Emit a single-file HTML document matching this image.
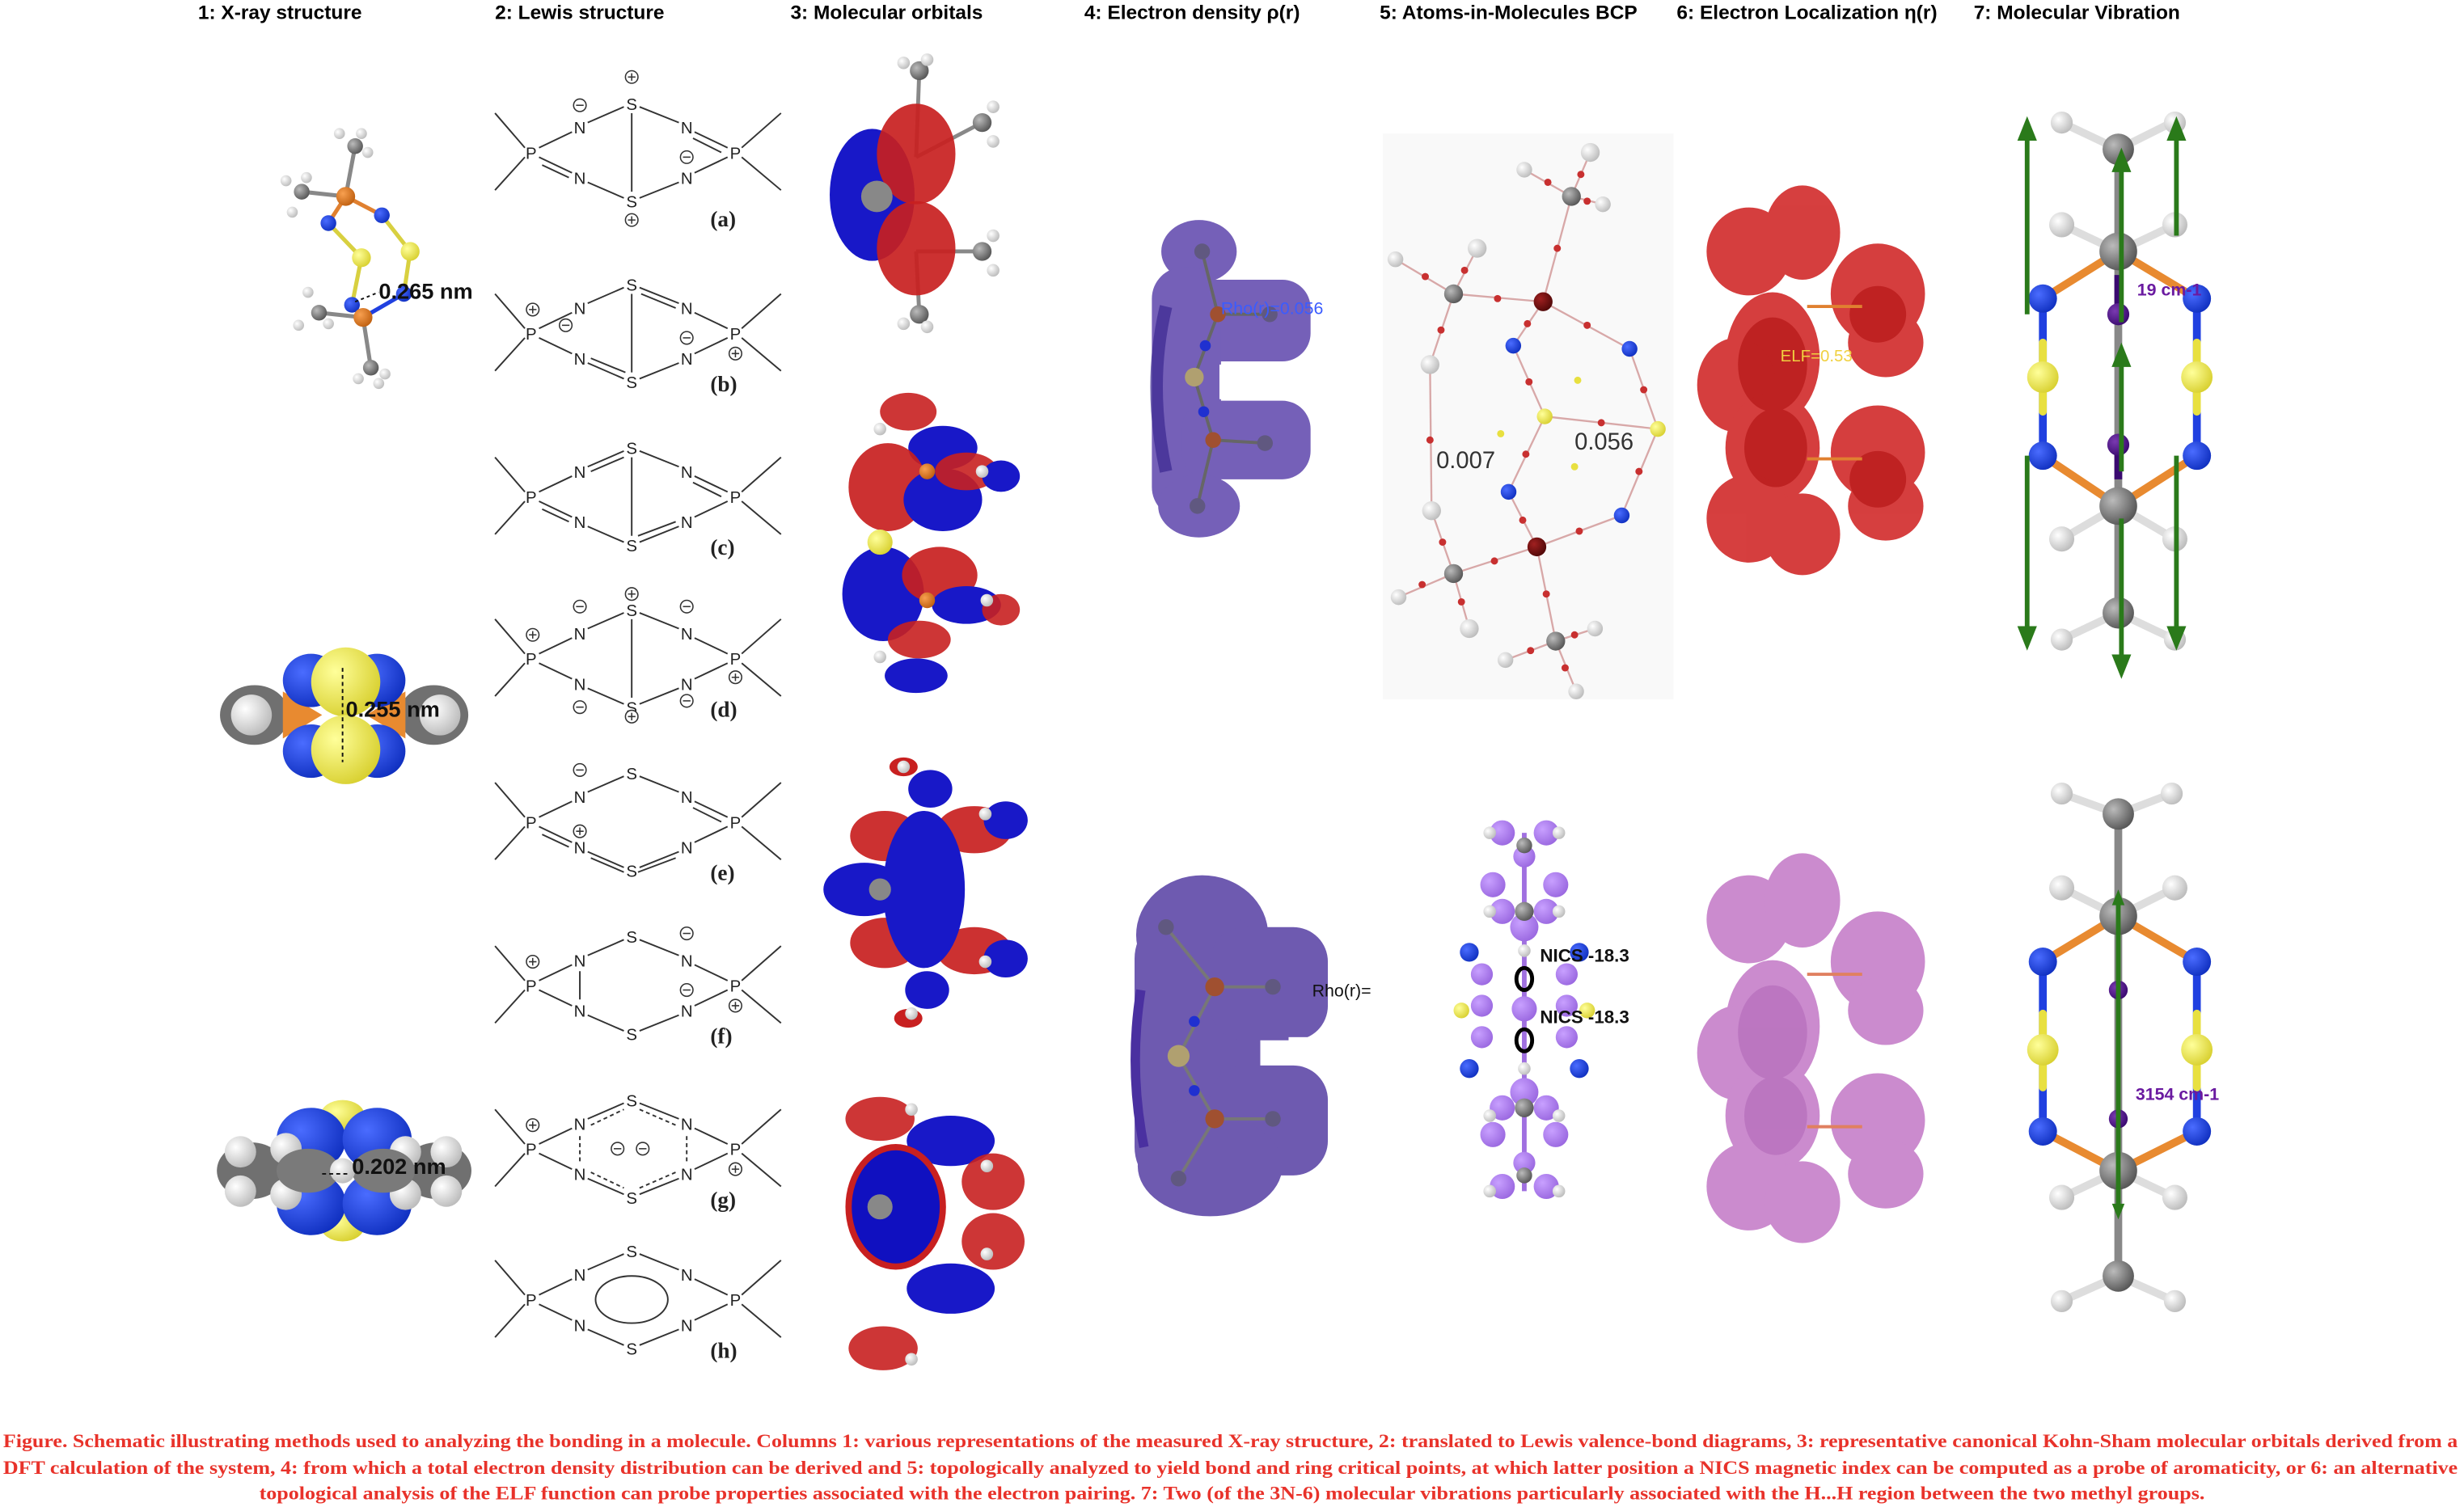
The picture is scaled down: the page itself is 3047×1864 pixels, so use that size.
<!DOCTYPE html>
<html><head><meta charset="utf-8"><style>
html,body{margin:0;padding:0;background:#fff;}
svg{display:block;}
.h{font-family:"Liberation Sans",sans-serif;font-weight:bold;font-size:12.6px;fill:#000;}
.L{font-family:"Liberation Sans",sans-serif;font-size:10.5px;text-anchor:middle;fill:#222;}
.lab{font-family:"Liberation Serif",serif;font-weight:bold;font-size:14px;fill:#222;}
.cap{font-family:"Liberation Serif",serif;font-weight:bold;font-size:12.2px;fill:#e8322a;}
.b{stroke:#333;stroke-width:1;fill:none;}
.d{stroke:#333;stroke-width:1;fill:none;stroke-dasharray:2.5 2;}
</style></head><body>
<svg width="3047" height="1864" viewBox="0 0 1568 959" preserveAspectRatio="none" xmlns="http://www.w3.org/2000/svg">
<defs>
<radialGradient id="gC" cx="35%" cy="35%" r="70%"><stop offset="0" stop-color="#bbb"/><stop offset="1" stop-color="#555"/></radialGradient>
<radialGradient id="gH" cx="35%" cy="35%" r="70%"><stop offset="0" stop-color="#fff"/><stop offset="1" stop-color="#bbb"/></radialGradient>
<radialGradient id="gN" cx="35%" cy="35%" r="70%"><stop offset="0" stop-color="#4a6cff"/><stop offset="1" stop-color="#1030c0"/></radialGradient>
<radialGradient id="gS" cx="35%" cy="35%" r="70%"><stop offset="0" stop-color="#ffff9a"/><stop offset="1" stop-color="#d8d030"/></radialGradient>
<radialGradient id="gP" cx="35%" cy="35%" r="70%"><stop offset="0" stop-color="#f8a050"/><stop offset="1" stop-color="#c06010"/></radialGradient>
<radialGradient id="gV" cx="35%" cy="35%" r="70%"><stop offset="0" stop-color="#7a3ab0"/><stop offset="1" stop-color="#3a0a70"/></radialGradient>
<radialGradient id="gL" cx="35%" cy="35%" r="70%"><stop offset="0" stop-color="#c8a0ff"/><stop offset="1" stop-color="#9a68e0"/></radialGradient>
<radialGradient id="gR" cx="35%" cy="35%" r="70%"><stop offset="0" stop-color="#a02020"/><stop offset="1" stop-color="#500808"/></radialGradient>
<symbol id="pl" viewBox="-5 -5 10 10" width="10" height="10" overflow="visible"><circle r="4" fill="#fff" stroke="#333" stroke-width="0.8"/><path d="M-2.4 0H2.4M0 -2.4V2.4" stroke="#333" stroke-width="0.8"/></symbol>
<symbol id="mi" viewBox="-5 -5 10 10" width="10" height="10" overflow="visible"><circle r="4" fill="#fff" stroke="#333" stroke-width="0.8"/><path d="M-2.4 0H2.4" stroke="#333" stroke-width="0.8"/></symbol>
</defs>

<!-- headers -->
<text class="h" x="126" y="12">1: X-ray structure</text>
<text class="h" x="315" y="12">2: Lewis structure</text>
<text class="h" x="503" y="12">3: Molecular orbitals</text>
<text class="h" x="690" y="12">4: Electron density ρ(r)</text>
<text class="h" x="878" y="12">5: Atoms-in-Molecules BCP</text>
<text class="h" x="1067" y="12">6: Electron Localization η(r)</text>
<text class="h" x="1256" y="12">7: Molecular Vibration</text>

<!-- ===== Column 1 ===== -->
<g stroke-width="2.6" stroke-linecap="round">
<line x1="226" y1="93" x2="220" y2="125" stroke="#888"/><line x1="192" y1="122" x2="220" y2="125" stroke="#888"/>
<line x1="220" y1="125" x2="209" y2="142" stroke="#e08030"/><line x1="220" y1="125" x2="243" y2="137" stroke="#e08030"/>
<line x1="209" y1="142" x2="230" y2="164" stroke="#d8d040"/><line x1="243" y1="137" x2="261" y2="160" stroke="#d8d040"/>
<line x1="230" y1="164" x2="224" y2="194" stroke="#d8d040"/><line x1="261" y1="160" x2="257" y2="187" stroke="#d8d040"/>
<line x1="224" y1="194" x2="231" y2="202" stroke="#2040e0"/><line x1="257" y1="187" x2="231" y2="202" stroke="#2040e0"/>
<line x1="231" y1="202" x2="203" y2="199" stroke="#888"/><line x1="231" y1="202" x2="236" y2="234" stroke="#888"/>
</g>
<g>
<circle cx="216" cy="85" r="3.5" fill="url(#gH)"/><circle cx="230" cy="85" r="3.5" fill="url(#gH)"/><circle cx="234" cy="97" r="3.5" fill="url(#gH)"/>
<circle cx="226" cy="93" r="5" fill="url(#gC)"/>
<circle cx="182" cy="115" r="3.5" fill="url(#gH)"/><circle cx="195" cy="113" r="3.5" fill="url(#gH)"/><circle cx="186" cy="135" r="3.5" fill="url(#gH)"/>
<circle cx="192" cy="122" r="5" fill="url(#gC)"/>
<circle cx="220" cy="125" r="6" fill="url(#gP)"/>
<circle cx="209" cy="142" r="5" fill="url(#gN)"/><circle cx="243" cy="137" r="5" fill="url(#gN)"/>
<circle cx="230" cy="164" r="6" fill="url(#gS)"/><circle cx="261" cy="160" r="6" fill="url(#gS)"/>
<circle cx="224" cy="194" r="5" fill="url(#gN)"/><circle cx="257" cy="187" r="5" fill="url(#gN)"/>
<circle cx="196" cy="186" r="3.5" fill="url(#gH)"/><circle cx="190" cy="207" r="3.5" fill="url(#gH)"/><circle cx="209" cy="206" r="3.5" fill="url(#gH)"/>
<circle cx="203" cy="199" r="5" fill="url(#gC)"/>
<circle cx="231" cy="202" r="6" fill="url(#gP)"/>
<circle cx="236" cy="234" r="5" fill="url(#gC)"/>
<circle cx="228" cy="241" r="3.5" fill="url(#gH)"/><circle cx="245" cy="238" r="3.5" fill="url(#gH)"/><circle cx="241" cy="244" r="3.5" fill="url(#gH)"/>
</g>
<line x1="226" y1="192" x2="241" y2="186" stroke="#111" stroke-width="1" stroke-dasharray="2 2"/>
<text x="241" y="190" font-family="Liberation Sans,sans-serif" font-weight="bold" font-size="14" fill="#111">0.265 nm</text>

<!-- space fill 1 -->
<g>
<ellipse cx="162" cy="455" rx="22" ry="19" fill="#707070"/><ellipse cx="276" cy="455" rx="22" ry="19" fill="#707070"/>
<circle cx="160" cy="455" r="13" fill="url(#gH)"/><circle cx="280" cy="455" r="13" fill="url(#gH)"/>
<polygon points="180,440 205,455 180,470" fill="#e88a30"/><polygon points="258,440 233,455 258,470" fill="#e88a30"/>
<ellipse cx="198" cy="433" rx="18" ry="17" fill="url(#gN)"/><ellipse cx="198" cy="478" rx="18" ry="17" fill="url(#gN)"/>
<ellipse cx="240" cy="433" rx="18" ry="17" fill="url(#gN)"/><ellipse cx="240" cy="478" rx="18" ry="17" fill="url(#gN)"/>
<ellipse cx="220" cy="434" rx="22" ry="22" fill="url(#gS)"/><ellipse cx="220" cy="477" rx="22" ry="22" fill="url(#gS)"/>
<line x1="218" y1="425" x2="218" y2="485" stroke="#111" stroke-dasharray="2.5 2" stroke-width="1"/>
<text x="220" y="456" font-family="Liberation Sans,sans-serif" font-weight="bold" font-size="14" fill="#111">0.255 nm</text>
</g>
<!-- space fill 2 -->
<g>
<ellipse cx="218" cy="710" rx="14" ry="10" fill="url(#gS)"/><ellipse cx="218" cy="780" rx="14" ry="10" fill="url(#gS)"/>
<ellipse cx="198" cy="725" rx="22" ry="20" fill="url(#gN)"/><ellipse cx="240" cy="725" rx="22" ry="20" fill="url(#gN)"/>
<ellipse cx="198" cy="766" rx="22" ry="20" fill="url(#gN)"/><ellipse cx="240" cy="766" rx="22" ry="20" fill="url(#gN)"/>
<ellipse cx="160" cy="745" rx="22" ry="18" fill="#707070"/><ellipse cx="278" cy="745" rx="22" ry="18" fill="#707070"/>
<circle cx="153" cy="733" r="10" fill="url(#gH)"/><circle cx="153" cy="758" r="10" fill="url(#gH)"/>
<circle cx="182" cy="731" r="10" fill="url(#gH)"/><circle cx="182" cy="760" r="10" fill="url(#gH)"/>
<ellipse cx="196" cy="745" rx="20" ry="14" fill="#7a7a7a"/>
<circle cx="284" cy="733" r="10" fill="url(#gH)"/><circle cx="284" cy="758" r="10" fill="url(#gH)"/>
<circle cx="258" cy="733" r="10" fill="url(#gH)"/><circle cx="258" cy="760" r="10" fill="url(#gH)"/>
<ellipse cx="244" cy="745" rx="20" ry="14" fill="#7a7a7a"/>
<circle cx="218" cy="745" r="8" fill="url(#gH)"/>
<line x1="205" y1="747" x2="222" y2="747" stroke="#111" stroke-dasharray="2.5 2" stroke-width="1"/>
<text x="224" y="747" font-family="Liberation Sans,sans-serif" font-weight="bold" font-size="14" fill="#111">0.202 nm</text>
</g>

<!-- ===== Column 2: Lewis ===== -->
<!-- (a) -->
<g transform="translate(0,97)">
<path class="b" d="M334 -3L315 -25M334 3L315 24M472 -3L497 -25M472 3L497 24M343 -3L364 -13M343 3L364 13M374 -19L397 -29M374 19L397 29M407 -29L432 -19M407 29L432 19M442 -13L463 -3M442 13L463 3M402 -25V25M345 8L362 16M441 -9L459 0"/>
<text class="L" x="338" y="4">P</text><text class="L" x="468" y="4">P</text>
<text class="L" x="369" y="-12">N</text><text class="L" x="369" y="20">N</text><text class="L" x="437" y="-12">N</text><text class="L" x="437" y="20">N</text>
<text class="L" x="402" y="-27">S</text><text class="L" x="402" y="35">S</text>
<use href="#pl" x="397" y="-53"/><use href="#pl" x="397" y="38"/><use href="#mi" x="364" y="-35"/><use href="#mi" x="432" y="-2"/>
<text class="lab" x="452" y="47">(a)</text>
</g>
<!-- (b) -->
<g transform="translate(0,212)">
<path class="b" d="M334 -3L315 -25M334 3L315 24M472 -3L497 -25M472 3L497 24M343 -3L364 -13M343 3L364 13M374 -19L397 -29M374 19L397 29M407 -29L432 -19M407 29L432 19M442 -13L463 -3M442 13L463 3M402 -25V25M408 -25L430 -16M376 16L398 25"/>
<text class="L" x="338" y="4">P</text><text class="L" x="468" y="4">P</text>
<text class="L" x="369" y="-12">N</text><text class="L" x="369" y="20">N</text><text class="L" x="437" y="-12">N</text><text class="L" x="437" y="20">N</text>
<text class="L" x="402" y="-27">S</text><text class="L" x="402" y="35">S</text>
<use href="#pl" x="334" y="-20"/><use href="#mi" x="355" y="-10"/><use href="#mi" x="432" y="-2"/><use href="#pl" x="463" y="8"/>
<text class="lab" x="452" y="37">(b)</text>
</g>
<!-- (c) -->
<g transform="translate(0,316)">
<path class="b" d="M334 -3L315 -25M334 3L315 24M472 -3L497 -25M472 3L497 24M343 -3L364 -13M343 3L364 13M374 -19L397 -29M374 19L397 29M407 -29L432 -19M407 29L432 19M442 -13L463 -3M442 13L463 3M402 -25V25M345 8L362 16M441 -9L459 0M376 -16L397 -25M406 25L430 16"/>
<text class="L" x="338" y="4">P</text><text class="L" x="468" y="4">P</text>
<text class="L" x="369" y="-12">N</text><text class="L" x="369" y="20">N</text><text class="L" x="437" y="-12">N</text><text class="L" x="437" y="20">N</text>
<text class="L" x="402" y="-27">S</text><text class="L" x="402" y="35">S</text>
<text class="lab" x="452" y="37">(c)</text>
</g>
<!-- (d) -->
<g transform="translate(0,419)">
<path class="b" d="M334 -3L315 -25M334 3L315 24M472 -3L497 -25M472 3L497 24M343 -3L364 -13M343 3L364 13M374 -19L397 -29M374 19L397 29M407 -29L432 -19M407 29L432 19M442 -13L463 -3M442 13L463 3M402 -25V25"/>
<text class="L" x="338" y="4">P</text><text class="L" x="468" y="4">P</text>
<text class="L" x="369" y="-12">N</text><text class="L" x="369" y="20">N</text><text class="L" x="437" y="-12">N</text><text class="L" x="437" y="20">N</text>
<text class="L" x="402" y="-27">S</text><text class="L" x="402" y="35">S</text>
<use href="#pl" x="397" y="-46"/><use href="#pl" x="397" y="32"/><use href="#mi" x="364" y="-38"/><use href="#mi" x="364" y="26"/>
<use href="#mi" x="432" y="-38"/><use href="#mi" x="432" y="22"/><use href="#pl" x="334" y="-20"/><use href="#pl" x="463" y="7"/>
<text class="lab" x="452" y="37">(d)</text>
</g>
<!-- (e) -->
<g transform="translate(0,523)">
<path class="b" d="M334 -3L315 -25M334 3L315 24M472 -3L497 -25M472 3L497 24M343 -3L364 -13M343 3L364 13M374 -19L397 -29M374 19L397 29M407 -29L432 -19M407 29L432 19M442 -13L463 -3M442 13L463 3M345 8L362 16M441 -9L459 0M376 23L397 32M406 32L430 23"/>
<text class="L" x="338" y="4">P</text><text class="L" x="468" y="4">P</text>
<text class="L" x="369" y="-12">N</text><text class="L" x="369" y="20">N</text><text class="L" x="437" y="-12">N</text><text class="L" x="437" y="20">N</text>
<text class="L" x="402" y="-27">S</text><text class="L" x="402" y="35">S</text>
<use href="#mi" x="364" y="-38"/><use href="#pl" x="364" y="1"/>
<text class="lab" x="452" y="37">(e)</text>
</g>
<!-- (f) -->
<g transform="translate(0,627)">
<path class="b" d="M334 -3L315 -25M334 3L315 24M472 -3L497 -25M472 3L497 24M343 -3L364 -13M343 3L364 13M374 -19L397 -29M374 19L397 29M407 -29L432 -19M407 29L432 19M442 -13L463 -3M442 13L463 3M369 -9V9"/>
<text class="L" x="338" y="4">P</text><text class="L" x="468" y="4">P</text>
<text class="L" x="369" y="-12">N</text><text class="L" x="369" y="20">N</text><text class="L" x="437" y="-12">N</text><text class="L" x="437" y="20">N</text>
<text class="L" x="402" y="-27">S</text><text class="L" x="402" y="35">S</text>
<use href="#pl" x="334" y="-20"/><use href="#mi" x="432" y="-38"/><use href="#mi" x="432" y="-2"/><use href="#pl" x="463" y="8"/>
<text class="lab" x="452" y="37">(f)</text>
</g>
<!-- (g) -->
<g transform="translate(0,731)">
<path class="b" d="M334 -3L315 -25M334 3L315 24M472 -3L497 -25M472 3L497 24M343 -3L364 -13M343 3L364 13M374 -19L397 -29M374 19L397 29M407 -29L432 -19M407 29L432 19M442 -13L463 -3M442 13L463 3"/>
<path class="d" d="M376 -15L397 -25M407 -25L430 -15M376 15L397 25M407 25L430 15M369 -8V9M437 -8V9"/>
<text class="L" x="338" y="4">P</text><text class="L" x="468" y="4">P</text>
<text class="L" x="369" y="-12">N</text><text class="L" x="369" y="20">N</text><text class="L" x="437" y="-12">N</text><text class="L" x="437" y="20">N</text>
<text class="L" x="402" y="-27">S</text><text class="L" x="402" y="35">S</text>
<use href="#pl" x="334" y="-20"/><use href="#mi" x="388" y="-5"/><use href="#mi" x="404" y="-5"/><use href="#pl" x="463" y="8"/>
<text class="lab" x="452" y="37">(g)</text>
</g>
<!-- (h) -->
<g transform="translate(0,827)">
<path class="b" d="M334 -3L315 -25M334 3L315 24M472 -3L497 -25M472 3L497 24M343 -3L364 -13M343 3L364 13M374 -19L397 -29M374 19L397 29M407 -29L432 -19M407 29L432 19M442 -13L463 -3M442 13L463 3"/>
<ellipse class="b" cx="402" cy="0" rx="23" ry="15"/>
<text class="L" x="338" y="4">P</text><text class="L" x="468" y="4">P</text>
<text class="L" x="369" y="-12">N</text><text class="L" x="369" y="20">N</text><text class="L" x="437" y="-12">N</text><text class="L" x="437" y="20">N</text>
<text class="L" x="402" y="-27">S</text><text class="L" x="402" y="35">S</text>
<text class="lab" x="452" y="37">(h)</text>
</g>

<!-- ===== Column 3: MOs ===== -->
<g stroke="#888" stroke-width="2.5">
<line x1="585" y1="45" x2="583" y2="100"/><line x1="583" y1="100" x2="625" y2="78"/><line x1="583" y1="160" x2="625" y2="160"/><line x1="583" y1="160" x2="585" y2="200"/>
</g>
<g>
<ellipse cx="555" cy="124" rx="27" ry="42" fill="#1818c8"/>
<ellipse cx="583" cy="98" rx="25" ry="32" fill="#c82020" opacity="0.92"/>
<ellipse cx="583" cy="158" rx="25" ry="30" fill="#c82020" opacity="0.92"/>
<circle cx="558" cy="125" r="10" fill="#888"/>
<circle cx="585" cy="45" r="6" fill="url(#gC)"/><circle cx="575" cy="40" r="4" fill="url(#gH)"/><circle cx="590" cy="38" r="4" fill="url(#gH)"/>
<circle cx="625" cy="78" r="6" fill="url(#gC)"/><circle cx="632" cy="68" r="4" fill="url(#gH)"/><circle cx="632" cy="90" r="4" fill="url(#gH)"/>
<circle cx="625" cy="160" r="6" fill="url(#gC)"/><circle cx="632" cy="150" r="4" fill="url(#gH)"/><circle cx="632" cy="172" r="4" fill="url(#gH)"/>
<circle cx="585" cy="200" r="6" fill="url(#gC)"/><circle cx="575" cy="206" r="4" fill="url(#gH)"/><circle cx="590" cy="208" r="4" fill="url(#gH)"/>
</g>
<!-- MO 2 -->
<g>
<ellipse cx="578" cy="262" rx="18" ry="12" fill="#c82020" opacity="0.9"/>
<ellipse cx="600" cy="285" rx="22" ry="14" fill="#1818c8"/>
<ellipse cx="565" cy="310" rx="25" ry="28" fill="#c82020" opacity="0.92"/>
<ellipse cx="600" cy="318" rx="25" ry="20" fill="#1818c8"/>
<ellipse cx="615" cy="300" rx="20" ry="12" fill="#c82020" opacity="0.9"/>
<ellipse cx="637" cy="303" rx="12" ry="10" fill="#1818c8"/>
<ellipse cx="562" cy="378" rx="26" ry="30" fill="#1818c8"/>
<ellipse cx="598" cy="366" rx="24" ry="18" fill="#c82020" opacity="0.92"/>
<ellipse cx="615" cy="385" rx="22" ry="12" fill="#1818c8"/>
<ellipse cx="637" cy="388" rx="12" ry="10" fill="#c82020" opacity="0.9"/>
<ellipse cx="585" cy="407" rx="20" ry="12" fill="#c82020" opacity="0.9"/>
<ellipse cx="583" cy="430" rx="20" ry="11" fill="#1818c8"/>
<circle cx="560" cy="345" r="8" fill="url(#gS)"/>
<circle cx="590" cy="300" r="5" fill="url(#gP)"/><circle cx="590" cy="382" r="5" fill="url(#gP)"/>
<circle cx="625" cy="300" r="4" fill="url(#gH)"/><circle cx="628" cy="382" r="4" fill="url(#gH)"/>
<circle cx="560" cy="273" r="4" fill="url(#gH)"/><circle cx="560" cy="418" r="4" fill="url(#gH)"/>
</g>
<!-- MO 3 -->
<g>
<ellipse cx="592" cy="502" rx="14" ry="12" fill="#1818c8"/>
<ellipse cx="575" cy="488" rx="9" ry="6" fill="#c82020"/>
<ellipse cx="620" cy="528" rx="24" ry="15" fill="#c82020" opacity="0.92"/>
<ellipse cx="640" cy="522" rx="14" ry="12" fill="#1818c8"/>
<ellipse cx="620" cy="605" rx="24" ry="15" fill="#c82020" opacity="0.92"/>
<ellipse cx="640" cy="610" rx="14" ry="12" fill="#1818c8"/>
<ellipse cx="563" cy="532" rx="22" ry="16" fill="#c82020" opacity="0.92"/>
<ellipse cx="563" cy="600" rx="22" ry="16" fill="#c82020" opacity="0.92"/>
<ellipse cx="550" cy="566" rx="26" ry="17" fill="#1818c8"/>
<ellipse cx="588" cy="566" rx="26" ry="50" fill="#1818c8"/>
<ellipse cx="590" cy="630" rx="14" ry="12" fill="#1818c8"/>
<ellipse cx="578" cy="648" rx="9" ry="6" fill="#c82020"/>
<circle cx="560" cy="566" r="7" fill="#888"/>
<circle cx="575" cy="488" r="4" fill="url(#gH)"/><circle cx="580" cy="645" r="4" fill="url(#gH)"/>
<circle cx="627" cy="518" r="4" fill="url(#gH)"/><circle cx="627" cy="612" r="4" fill="url(#gH)"/>
</g>
<!-- MO 4 -->
<g>
<ellipse cx="560" cy="712" rx="22" ry="14" fill="#c82020" opacity="0.9"/>
<ellipse cx="605" cy="726" rx="28" ry="16" fill="#1818c8"/>
<ellipse cx="632" cy="752" rx="20" ry="18" fill="#c82020" opacity="0.9"/>
<ellipse cx="632" cy="790" rx="20" ry="18" fill="#c82020" opacity="0.9"/>
<ellipse cx="570" cy="768" rx="32" ry="40" fill="#c82020"/>
<ellipse cx="570" cy="768" rx="28" ry="36" fill="#1010c0"/>
<ellipse cx="605" cy="820" rx="28" ry="16" fill="#1818c8"/>
<ellipse cx="562" cy="858" rx="22" ry="14" fill="#c82020" opacity="0.9"/>
<circle cx="560" cy="768" r="8" fill="#888"/>
<circle cx="580" cy="706" r="4" fill="url(#gH)"/><circle cx="628" cy="742" r="4" fill="url(#gH)"/><circle cx="628" cy="798" r="4" fill="url(#gH)"/><circle cx="580" cy="865" r="4" fill="url(#gH)"/>
</g>

<!-- ===== Column 4 ===== -->
<g fill="#7560b8">
<ellipse cx="763" cy="160" rx="24" ry="20"/>
<rect x="752" y="178" width="82" height="52" rx="18"/>
<rect x="733" y="170" width="44" height="160" rx="20"/>
<rect x="752" y="255" width="82" height="50" rx="18"/>
<ellipse cx="763" cy="322" rx="26" ry="20"/>
</g>
<path d="M742 195 Q730 245 742 300" stroke="#3a2890" stroke-width="8" fill="none" opacity="0.7"/>
<rect x="776" y="232" width="58" height="22" fill="#fff"/>
<g stroke="#666" stroke-width="2"><line x1="765" y1="160" x2="775" y2="200"/><line x1="775" y1="200" x2="808" y2="200"/><line x1="775" y1="200" x2="760" y2="240"/><line x1="760" y1="240" x2="772" y2="280"/><line x1="772" y1="280" x2="805" y2="282"/><line x1="772" y1="280" x2="762" y2="322"/></g>
<circle cx="765" cy="160" r="5" fill="#605880"/><circle cx="808" cy="200" r="5" fill="#605880"/><circle cx="805" cy="282" r="5" fill="#605880"/><circle cx="762" cy="322" r="5" fill="#605880"/>
<circle cx="775" cy="200" r="5" fill="#a05030"/><circle cx="772" cy="280" r="5" fill="#a05030"/>
<circle cx="760" cy="240" r="6" fill="#b0a070"/>
<circle cx="767" cy="220" r="3.5" fill="#2030d0"/><circle cx="766" cy="262" r="3.5" fill="#2030d0"/>
<text x="777" y="200" font-family="Liberation Sans,sans-serif" font-size="11" fill="#3a5cff">Rho(r)=0.056</text>

<g fill="#6e5ab0">
<ellipse cx="765" cy="595" rx="42" ry="38"/>
<rect x="722" y="580" width="80" height="180" rx="30"/>
<rect x="770" y="590" width="75" height="72" rx="22"/>
<rect x="770" y="678" width="75" height="70" rx="22"/>
<ellipse cx="770" cy="742" rx="46" ry="32"/>
</g>
<path d="M726 630 Q718 680 728 730" stroke="#4a30a0" stroke-width="6" fill="none"/>
<rect x="820" y="660" width="26" height="16" fill="#fff"/>
<g stroke="#777" stroke-width="2"><line x1="742" y1="590" x2="773" y2="628"/><line x1="773" y1="628" x2="810" y2="628"/><line x1="773" y1="628" x2="750" y2="672"/><line x1="750" y1="672" x2="773" y2="712"/><line x1="773" y1="712" x2="810" y2="712"/><line x1="773" y1="712" x2="750" y2="750"/></g>
<circle cx="742" cy="590" r="5" fill="#605880"/><circle cx="810" cy="628" r="5" fill="#605880"/><circle cx="810" cy="712" r="5" fill="#605880"/><circle cx="750" cy="750" r="5" fill="#605880"/>
<circle cx="773" cy="628" r="6" fill="#a05030"/><circle cx="773" cy="712" r="6" fill="#a05030"/><circle cx="750" cy="672" r="7" fill="#b0a070"/>
<circle cx="760" cy="650" r="3.5" fill="#2030d0"/><circle cx="760" cy="694" r="3.5" fill="#2030d0"/>
<text x="835" y="634" font-family="Liberation Sans,sans-serif" font-size="11" fill="#111">Rho(r)=</text>

<!-- ===== Column 5 AIM ===== -->
<rect x="880" y="85" width="185" height="360" fill="#f9f9f9"/>
<g stroke="#d8a8a8" stroke-width="1.2">
<line x1="1000" y1="125" x2="982" y2="192"/><line x1="1000" y1="125" x2="1012" y2="97"/><line x1="1000" y1="125" x2="970" y2="108"/><line x1="1000" y1="125" x2="1020" y2="130"/>
<line x1="925" y1="187" x2="982" y2="192"/><line x1="925" y1="187" x2="940" y2="158"/><line x1="925" y1="187" x2="888" y2="165"/><line x1="925" y1="187" x2="910" y2="232"/>
<line x1="982" y1="192" x2="963" y2="220"/><line x1="982" y1="192" x2="1037" y2="222"/>
<line x1="963" y1="220" x2="983" y2="265"/><line x1="1037" y1="222" x2="1055" y2="273"/>
<line x1="983" y1="265" x2="1055" y2="273"/><line x1="983" y1="265" x2="960" y2="313"/>
<line x1="1055" y1="273" x2="1032" y2="328"/><line x1="960" y1="313" x2="978" y2="348"/><line x1="1032" y1="328" x2="978" y2="348"/>
<line x1="910" y1="232" x2="911" y2="325"/><line x1="911" y1="325" x2="925" y2="365"/>
<line x1="925" y1="365" x2="978" y2="348"/><line x1="925" y1="365" x2="890" y2="380"/><line x1="925" y1="365" x2="935" y2="400"/>
<line x1="978" y1="348" x2="990" y2="408"/><line x1="990" y1="408" x2="958" y2="420"/><line x1="990" y1="408" x2="1015" y2="400"/><line x1="990" y1="408" x2="1003" y2="440"/>
</g>
<g fill="#c83030">
<circle cx="991" cy="158" r="2.3"/><circle cx="953" cy="190" r="2.3"/><circle cx="972" cy="206" r="2.3"/><circle cx="1010" cy="207" r="2.3"/><circle cx="973" cy="243" r="2.3"/><circle cx="1046" cy="248" r="2.3"/><circle cx="1019" cy="269" r="2.3"/><circle cx="971" cy="289" r="2.3"/><circle cx="1043" cy="300" r="2.3"/><circle cx="969" cy="331" r="2.3"/><circle cx="1005" cy="338" r="2.3"/><circle cx="951" cy="357" r="2.3"/><circle cx="984" cy="378" r="2.3"/><circle cx="910" cy="280" r="2.3"/><circle cx="917" cy="210" r="2.3"/><circle cx="918" cy="345" r="2.3"/><circle cx="907" cy="176" r="2.3"/><circle cx="932" cy="172" r="2.3"/><circle cx="905" cy="372" r="2.3"/><circle cx="930" cy="383" r="2.3"/><circle cx="974" cy="414" r="2.3"/><circle cx="1002" cy="404" r="2.3"/><circle cx="996" cy="425" r="2.3"/><circle cx="1006" cy="111" r="2.3"/><circle cx="985" cy="116" r="2.3"/><circle cx="1010" cy="128" r="2.3"/>
</g>
<g fill="#e8e040"><circle cx="1004" cy="242" r="2.3"/><circle cx="955" cy="276" r="2.3"/><circle cx="1002" cy="297" r="2.3"/></g>
<g>
<circle cx="1000" cy="125" r="6" fill="url(#gC)"/><circle cx="925" cy="187" r="6" fill="url(#gC)"/><circle cx="925" cy="365" r="6" fill="url(#gC)"/><circle cx="990" cy="408" r="6" fill="url(#gC)"/>
<circle cx="982" cy="192" r="6" fill="url(#gR)"/><circle cx="978" cy="348" r="6" fill="url(#gR)"/>
<circle cx="963" cy="220" r="5" fill="url(#gN)"/><circle cx="1037" cy="222" r="5" fill="url(#gN)"/><circle cx="960" cy="313" r="5" fill="url(#gN)"/><circle cx="1032" cy="328" r="5" fill="url(#gN)"/>
<circle cx="983" cy="265" r="5" fill="url(#gS)"/><circle cx="1055" cy="273" r="5" fill="url(#gS)"/>
<circle cx="1012" cy="97" r="6" fill="url(#gH)"/><circle cx="970" cy="108" r="5" fill="url(#gH)"/><circle cx="1020" cy="130" r="5" fill="url(#gH)"/><circle cx="940" cy="158" r="6" fill="url(#gH)"/><circle cx="888" cy="165" r="5" fill="url(#gH)"/><circle cx="910" cy="232" r="6" fill="url(#gH)"/><circle cx="911" cy="325" r="6" fill="url(#gH)"/><circle cx="890" cy="380" r="5" fill="url(#gH)"/><circle cx="935" cy="400" r="6" fill="url(#gH)"/><circle cx="958" cy="420" r="5" fill="url(#gH)"/><circle cx="1015" cy="400" r="5" fill="url(#gH)"/><circle cx="1003" cy="440" r="5" fill="url(#gH)"/>
</g>
<text x="914" y="298" font-family="Liberation Sans,sans-serif" font-size="15" fill="#333">0.007</text>
<text x="1002" y="286" font-family="Liberation Sans,sans-serif" font-size="15" fill="#333">0.056</text>

<!-- NICS molecule -->
<g stroke="#a070e0" stroke-width="3"><line x1="970" y1="530" x2="970" y2="758"/></g>
<g fill="url(#gL)">
<circle cx="956" cy="530" r="8"/><circle cx="984" cy="530" r="8"/><circle cx="970" cy="545" r="7"/>
<circle cx="950" cy="563" r="8"/><circle cx="990" cy="563" r="8"/><circle cx="956" cy="580" r="8"/><circle cx="984" cy="580" r="8"/><circle cx="970" cy="590" r="9"/>
<circle cx="943" cy="620" r="7"/><circle cx="997" cy="620" r="7"/><circle cx="943" cy="640" r="7"/><circle cx="997" cy="640" r="7"/><circle cx="943" cy="660" r="7"/><circle cx="997" cy="660" r="7"/>
<circle cx="970" cy="642" r="8"/>
<circle cx="970" cy="695" r="9"/><circle cx="956" cy="705" r="8"/><circle cx="984" cy="705" r="8"/><circle cx="950" cy="722" r="8"/><circle cx="990" cy="722" r="8"/><circle cx="970" cy="740" r="7"/><circle cx="956" cy="755" r="8"/><circle cx="984" cy="755" r="8"/>
</g>
<g>
<circle cx="970" cy="538" r="5" fill="url(#gC)"/><circle cx="970" cy="580" r="6" fill="url(#gC)"/><circle cx="970" cy="705" r="6" fill="url(#gC)"/><circle cx="970" cy="748" r="5" fill="url(#gC)"/>
<circle cx="935" cy="606" r="6" fill="url(#gN)"/><circle cx="1005" cy="606" r="6" fill="url(#gN)"/><circle cx="935" cy="680" r="6" fill="url(#gN)"/><circle cx="1005" cy="680" r="6" fill="url(#gN)"/>
<circle cx="930" cy="643" r="5" fill="url(#gS)"/><circle cx="1010" cy="643" r="5" fill="url(#gS)"/>
<circle cx="948" cy="530" r="4" fill="url(#gH)"/><circle cx="992" cy="530" r="4" fill="url(#gH)"/><circle cx="948" cy="580" r="4" fill="url(#gH)"/><circle cx="992" cy="580" r="4" fill="url(#gH)"/>
<circle cx="948" cy="710" r="4" fill="url(#gH)"/><circle cx="992" cy="710" r="4" fill="url(#gH)"/><circle cx="948" cy="758" r="4" fill="url(#gH)"/><circle cx="992" cy="758" r="4" fill="url(#gH)"/>
<circle cx="970" cy="605" r="4" fill="url(#gH)"/><circle cx="970" cy="680" r="4" fill="url(#gH)"/>
<ellipse cx="970" cy="623" rx="5" ry="7" fill="none" stroke="#000" stroke-width="2.5"/><ellipse cx="970" cy="662" rx="5" ry="7" fill="none" stroke="#000" stroke-width="2.5"/>
</g>
<text x="980" y="612" font-family="Liberation Sans,sans-serif" font-weight="bold" font-size="11.5" fill="#111">NICS -18.3</text>
<text x="980" y="651" font-family="Liberation Sans,sans-serif" font-weight="bold" font-size="11.5" fill="#111">NICS -18.3</text>

<!-- ===== Column 6 ===== -->
<g fill="#d02424" opacity="0.88">
<ellipse cx="1113" cy="160" rx="27" ry="28"/><ellipse cx="1147" cy="148" rx="24" ry="30"/>
<ellipse cx="1195" cy="187" rx="30" ry="32"/><ellipse cx="1200" cy="218" rx="24" ry="22"/>
<ellipse cx="1128" cy="228" rx="30" ry="42"/><ellipse cx="1105" cy="245" rx="25" ry="30"/>
<ellipse cx="1128" cy="285" rx="30" ry="35"/>
<ellipse cx="1195" cy="288" rx="30" ry="30"/><ellipse cx="1200" cy="322" rx="24" ry="22"/>
<ellipse cx="1113" cy="330" rx="27" ry="28"/><ellipse cx="1147" cy="340" rx="24" ry="26"/>
</g>
<g fill="#b01010" opacity="0.6"><ellipse cx="1128" cy="232" rx="22" ry="30"/><ellipse cx="1130" cy="285" rx="20" ry="25"/><ellipse cx="1195" cy="200" rx="18" ry="18"/><ellipse cx="1195" cy="305" rx="18" ry="18"/></g>
<g stroke="#e08030" stroke-width="2"><line x1="1150" y1="195" x2="1185" y2="195"/><line x1="1150" y1="292" x2="1185" y2="292"/></g>
<text x="1133" y="230" font-family="Liberation Sans,sans-serif" font-size="10.5" fill="#f0d040">ELF=0.53</text>

<g fill="#c277c6" opacity="0.85">
<ellipse cx="1113" cy="585" rx="27" ry="28"/><ellipse cx="1147" cy="573" rx="24" ry="30"/>
<ellipse cx="1195" cy="612" rx="30" ry="32"/><ellipse cx="1200" cy="643" rx="24" ry="22"/>
<ellipse cx="1128" cy="653" rx="30" ry="42"/><ellipse cx="1105" cy="670" rx="25" ry="30"/>
<ellipse cx="1128" cy="710" rx="30" ry="35"/>
<ellipse cx="1195" cy="713" rx="30" ry="30"/><ellipse cx="1200" cy="747" rx="24" ry="22"/>
<ellipse cx="1113" cy="755" rx="27" ry="28"/><ellipse cx="1147" cy="765" rx="24" ry="26"/>
</g>
<g fill="#a050a8" opacity="0.35"><ellipse cx="1128" cy="657" rx="22" ry="30"/><ellipse cx="1130" cy="710" rx="20" ry="25"/></g>
<g stroke="#e08060" stroke-width="2"><line x1="1150" y1="620" x2="1185" y2="620"/><line x1="1150" y1="717" x2="1185" y2="717"/></g>

<!-- ===== Column 7 ===== -->
<g id="vib1">
<g stroke-width="5" stroke-linecap="round">
<line x1="1348" y1="95" x2="1348" y2="390" stroke="#888"/>
<line x1="1348" y1="160" x2="1300" y2="190" stroke="#e88a30"/><line x1="1348" y1="160" x2="1398" y2="190" stroke="#e88a30"/>
<line x1="1348" y1="322" x2="1300" y2="290" stroke="#e88a30"/><line x1="1348" y1="322" x2="1398" y2="290" stroke="#e88a30"/>
<line x1="1300" y1="190" x2="1300" y2="290" stroke="#2040e0"/><line x1="1398" y1="190" x2="1398" y2="290" stroke="#2040e0"/>
<line x1="1300" y1="218" x2="1300" y2="262" stroke="#e8e040"/><line x1="1398" y1="218" x2="1398" y2="262" stroke="#e8e040"/>
<line x1="1348" y1="95" x2="1312" y2="78" stroke="#ddd"/><line x1="1348" y1="95" x2="1382" y2="78" stroke="#ddd"/>
<line x1="1348" y1="160" x2="1312" y2="143" stroke="#ddd"/><line x1="1348" y1="160" x2="1384" y2="143" stroke="#ddd"/>
<line x1="1348" y1="322" x2="1312" y2="343" stroke="#ddd"/><line x1="1348" y1="322" x2="1384" y2="343" stroke="#ddd"/>
<line x1="1348" y1="390" x2="1312" y2="407" stroke="#ddd"/><line x1="1348" y1="390" x2="1384" y2="407" stroke="#ddd"/>
</g>
<circle cx="1348" cy="95" r="10" fill="url(#gC)"/><circle cx="1348" cy="160" r="12" fill="url(#gC)"/><circle cx="1348" cy="322" r="12" fill="url(#gC)"/><circle cx="1348" cy="390" r="10" fill="url(#gC)"/>
<circle cx="1312" cy="78" r="7" fill="url(#gH)"/><circle cx="1384" cy="78" r="7" fill="url(#gH)"/><circle cx="1312" cy="143" r="8" fill="url(#gH)"/><circle cx="1384" cy="143" r="8" fill="url(#gH)"/>
<circle cx="1312" cy="343" r="8" fill="url(#gH)"/><circle cx="1384" cy="343" r="8" fill="url(#gH)"/><circle cx="1312" cy="407" r="7" fill="url(#gH)"/><circle cx="1384" cy="407" r="7" fill="url(#gH)"/>
<circle cx="1300" cy="190" r="9" fill="url(#gN)"/><circle cx="1398" cy="190" r="9" fill="url(#gN)"/><circle cx="1300" cy="290" r="9" fill="url(#gN)"/><circle cx="1398" cy="290" r="9" fill="url(#gN)"/>
<circle cx="1300" cy="240" r="10" fill="url(#gS)"/><circle cx="1398" cy="240" r="10" fill="url(#gS)"/>
<line x1="1348" y1="175" x2="1348" y2="200" stroke="#3a0a70" stroke-width="5"/><circle cx="1348" cy="200" r="7" fill="url(#gV)"/>
<line x1="1348" y1="285" x2="1348" y2="305" stroke="#3a0a70" stroke-width="5"/><circle cx="1348" cy="283" r="7" fill="url(#gV)"/>
<g stroke="#2a7a1a" stroke-width="3" fill="#2a7a1a">
<line x1="1290" y1="85" x2="1290" y2="200"/><line x1="1385" y1="85" x2="1385" y2="150"/><line x1="1350" y1="105" x2="1350" y2="205"/>
<line x1="1350" y1="230" x2="1350" y2="300"/><line x1="1290" y1="290" x2="1290" y2="405"/><line x1="1385" y1="290" x2="1385" y2="405"/>
<line x1="1350" y1="330" x2="1350" y2="428"/>
<polygon points="1286,88 1290,78 1294,88"/><polygon points="1381,88 1385,78 1389,88"/><polygon points="1346,108 1350,98 1354,108"/><polygon points="1346,232 1350,222 1354,232"/><polygon points="1346,418 1350,428 1354,418"/><polygon points="1286,400 1290,410 1294,400"/><polygon points="1381,400 1385,410 1389,400"/>
</g>
<text x="1360" y="188" font-family="Liberation Sans,sans-serif" font-weight="bold" font-size="11" fill="#6a1aa0">19 cm-1</text>
</g>

<g>
<g stroke-width="5" stroke-linecap="round">
<line x1="1348" y1="518" x2="1348" y2="812" stroke="#888"/>
<line x1="1348" y1="583" x2="1300" y2="612" stroke="#e88a30"/><line x1="1348" y1="583" x2="1398" y2="612" stroke="#e88a30"/>
<line x1="1348" y1="745" x2="1300" y2="720" stroke="#e88a30"/><line x1="1348" y1="745" x2="1398" y2="720" stroke="#e88a30"/>
<line x1="1300" y1="612" x2="1300" y2="720" stroke="#2040e0"/><line x1="1398" y1="612" x2="1398" y2="720" stroke="#2040e0"/>
<line x1="1300" y1="645" x2="1300" y2="692" stroke="#e8e040"/><line x1="1398" y1="645" x2="1398" y2="692" stroke="#e8e040"/>
<line x1="1348" y1="518" x2="1312" y2="505" stroke="#ddd"/><line x1="1348" y1="518" x2="1382" y2="505" stroke="#ddd"/>
<line x1="1348" y1="583" x2="1312" y2="565" stroke="#ddd"/><line x1="1348" y1="583" x2="1384" y2="565" stroke="#ddd"/>
<line x1="1348" y1="745" x2="1312" y2="762" stroke="#ddd"/><line x1="1348" y1="745" x2="1384" y2="762" stroke="#ddd"/>
<line x1="1348" y1="812" x2="1312" y2="828" stroke="#ddd"/><line x1="1348" y1="812" x2="1384" y2="828" stroke="#ddd"/>
</g>
<circle cx="1348" cy="518" r="10" fill="url(#gC)"/><circle cx="1348" cy="583" r="12" fill="url(#gC)"/><circle cx="1348" cy="745" r="12" fill="url(#gC)"/><circle cx="1348" cy="812" r="10" fill="url(#gC)"/>
<circle cx="1312" cy="505" r="7" fill="url(#gH)"/><circle cx="1382" cy="505" r="7" fill="url(#gH)"/><circle cx="1312" cy="565" r="8" fill="url(#gH)"/><circle cx="1384" cy="565" r="8" fill="url(#gH)"/>
<circle cx="1312" cy="762" r="8" fill="url(#gH)"/><circle cx="1384" cy="762" r="8" fill="url(#gH)"/><circle cx="1312" cy="828" r="7" fill="url(#gH)"/><circle cx="1384" cy="828" r="7" fill="url(#gH)"/>
<circle cx="1300" cy="612" r="9" fill="url(#gN)"/><circle cx="1398" cy="612" r="9" fill="url(#gN)"/><circle cx="1300" cy="720" r="9" fill="url(#gN)"/><circle cx="1398" cy="720" r="9" fill="url(#gN)"/>
<circle cx="1300" cy="668" r="10" fill="url(#gS)"/><circle cx="1398" cy="668" r="10" fill="url(#gS)"/>
<circle cx="1348" cy="630" r="6" fill="url(#gV)"/><circle cx="1348" cy="712" r="6" fill="url(#gV)"/>
<line x1="1348" y1="572" x2="1348" y2="772" stroke="#2a7a1a" stroke-width="3"/>
<polygon points="1344,576 1348,566 1352,576" fill="#2a7a1a"/><polygon points="1344,766 1348,776 1352,766" fill="#2a7a1a"/>
<text x="1359" y="700" font-family="Liberation Sans,sans-serif" font-weight="bold" font-size="11" fill="#6a1aa0">3154 cm-1</text>
</g>

<!-- caption -->
<text class="cap" x="2" y="921" textLength="1562" lengthAdjust="spacingAndGlyphs">Figure. Schematic illustrating methods used to analyzing the bonding in a molecule. Columns 1: various representations of the measured X-ray structure, 2: translated to Lewis valence-bond diagrams, 3: representative canonical Kohn-Sham molecular orbitals derived from a</text>
<text class="cap" x="2" y="938" textLength="1562" lengthAdjust="spacingAndGlyphs">DFT calculation of the system, 4: from which a total electron density distribution can be derived and 5: topologically analyzed to yield bond and ring critical points, at which latter position a NICS magnetic index can be computed as a probe of aromaticity, or 6: an alternative</text>
<text class="cap" x="165" y="954" textLength="1238" lengthAdjust="spacingAndGlyphs">topological analysis of the ELF function can probe properties associated with the electron pairing. 7: Two (of the 3N-6) molecular vibrations particularly associated with the H...H region between the two methyl groups.</text>
</svg>
</body></html>
